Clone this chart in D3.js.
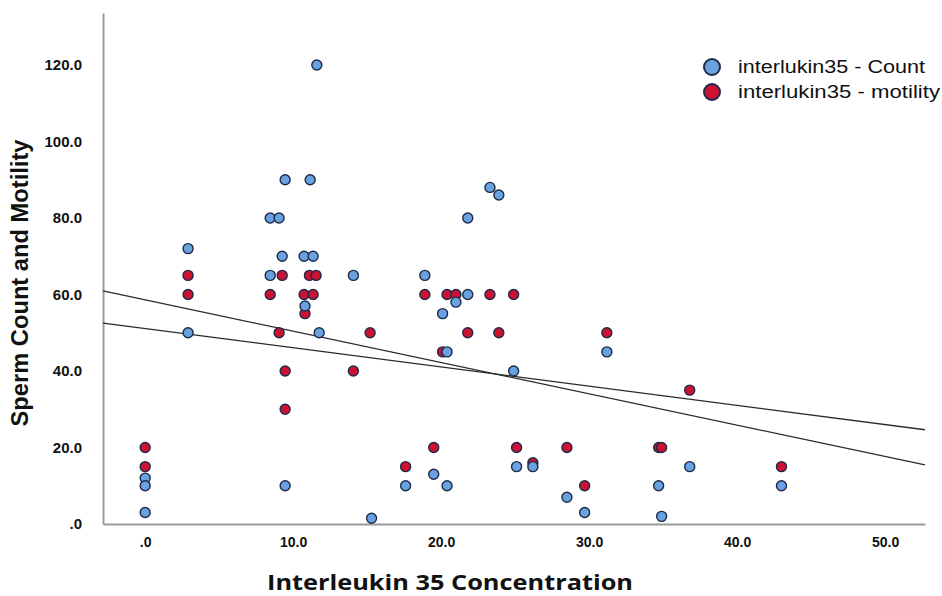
<!DOCTYPE html>
<html>
<head>
<meta charset="utf-8">
<script src="https://cdn.jsdelivr.net/npm/d3@7"></script>
<style>
  body { margin: 0; background: #fff; }
  svg { display: block; }
</style>
</head>
<body>
<svg id="chart" width="942" height="596"></svg>
<script>

// Values
var countConc = [11.6, 9.46, 11.15, 8.45, 9.05, 2.9, 9.26, 10.74, 11.35, 8.45, 2.9, 11.76, 10.8, 0, 0, 9.46, 0,
  23.3, 23.9, 21.8, 14.07, 18.9, 21.8, 21.0, 20.1, 20.4, 24.9, 26.2, 25.1, 19.5, 17.6, 20.4, 28.5, 15.3,
  31.2, 36.8, 34.7, 43.0, 29.7, 34.9];
var countVal = [120, 90, 90, 80, 80, 72, 70, 70, 70, 65, 50, 50, 57, 12, 10, 10, 3,
  88, 86, 80, 65, 65, 60, 58, 55, 45, 40, 15, 15, 13, 10, 10, 7, 1.5,
  45, 15, 10, 10, 3, 2];

var motConc = [2.9, 9.26, 11.1, 11.55, 2.9, 8.45, 10.74, 11.35, 10.8, 9.05, 9.46, 9.46, 0, 0,
  18.9, 20.4, 21.0, 23.3, 24.9, 15.2, 21.8, 23.9, 20.1, 14.07, 19.5, 25.1, 28.5, 17.6, 26.2,
  31.2, 36.8, 34.7, 34.9, 43.0, 29.7];
var motVal = [65, 65, 65, 65, 60, 60, 60, 60, 55, 50, 40, 30, 20, 15,
  60, 60, 60, 60, 60, 50, 50, 50, 45, 40, 20, 20, 20, 15, 16,
  50, 35, 20, 20, 15, 10];

// fit lines (intercept, slope) as drawn
var fitIntercepts = [58.6, 51.1];
var fitSlopes = [-0.819, -0.502];

var xTicks = [0, 10, 20, 30, 40, 50];
var yTicks = [0, 20, 40, 60, 80, 100, 120];
var seriesNames = ["interlukin35 - Count", "interlukin35 - motility"];
var seriesColors = ["#6aa2e0", "#cc1133"];


var svg = d3.select("#chart");

var x = d3.scaleLinear().domain([-2.85, 52.7]).range([103, 925]);
var y = d3.scaleLinear().domain([0, 133.6]).range([524, 13]);

var tickFmt = function (d) { return d === 0 ? ".0" : d3.format(".1f")(d); };

// Axes
svg.append("g")
  .attr("class", "y-axis")
  .attr("transform", "translate(103,0)")
  .call(d3.axisLeft(y).tickValues(yTicks).tickSize(0).tickPadding(21).tickFormat(tickFmt));

svg.append("g")
  .attr("class", "x-axis")
  .attr("transform", "translate(0,524)")
  .call(d3.axisBottom(x).tickValues(xTicks).tickSize(0).tickPadding(13).tickFormat(tickFmt));

svg.selectAll(".domain").attr("stroke", "#9a9a9a").attr("stroke-width", 2);
svg.selectAll(".tick text")
  .attr("font-family", "Liberation Sans, Arial, sans-serif")
  .attr("font-weight", "bold")
  .attr("fill", "#111");
svg.selectAll(".y-axis .tick text").attr("font-size", 15);
svg.selectAll(".x-axis .tick text").attr("font-size", 14);

// Fit lines
fitIntercepts.forEach(function (b, i) {
  var m = fitSlopes[i];
  svg.append("line")
    .attr("x1", x(-2.85)).attr("y1", y(b + m * -2.85))
    .attr("x2", x(52.7)).attr("y2", y(b + m * 52.7))
    .attr("stroke", "#2a2a2a")
    .attr("stroke-width", 1.3);
});

// Points: motility first, then count on top
function drawPoints(xs, vs, color) {
  svg.append("g").selectAll("circle")
    .data(xs.map(function (d, i) { return [d, vs[i]]; }))
    .enter()
    .append("circle")
    .attr("cx", function (d) { return x(d[0]); })
    .attr("cy", function (d) { return y(d[1]); })
    .attr("r", 5)
    .attr("fill", color)
    .attr("stroke", "#1c2b4a")
    .attr("stroke-width", 1.4);
}
drawPoints(motConc, motVal, seriesColors[1]);
drawPoints(countConc, countVal, seriesColors[0]);

// Legend (text in the picture is stretched wide)
var legendWidths = [187, 202];
var legend = svg.append("g");
seriesNames.forEach(function (name, i) {
  legend.append("circle")
    .attr("cx", 712).attr("cy", 67 + i * 25)
    .attr("r", 8)
    .attr("fill", seriesColors[i])
    .attr("stroke", "#1c2b4a")
    .attr("stroke-width", 2);
  legend.append("text")
    .attr("x", 738).attr("y", 67 + i * 25)
    .attr("dy", "0.35em")
    .attr("font-family", "Liberation Sans, Arial, sans-serif")
    .attr("font-size", 18)
    .attr("textLength", legendWidths[i])
    .attr("lengthAdjust", "spacingAndGlyphs")
    .attr("fill", "#111")
    .text(name);
});

// Axis titles
svg.append("text")
  .attr("transform", "translate(28,283) rotate(-90)")
  .attr("text-anchor", "middle")
  .attr("font-family", "Liberation Sans, Arial, sans-serif")
  .attr("font-weight", "bold")
  .attr("font-size", 23)
  .attr("textLength", 287)
  .attr("lengthAdjust", "spacingAndGlyphs")
  .attr("fill", "#111")
  .text("Sperm Count and Motility");

svg.append("text")
  .attr("x", 450).attr("y", 590)
  .attr("text-anchor", "middle")
  .attr("font-family", "Open Sans, sans-serif")
  .attr("font-weight", "bold")
  .attr("font-size", 21)
  .attr("textLength", 366)
  .attr("lengthAdjust", "spacingAndGlyphs")
  .attr("fill", "#111")
  .text("Interleukin 35 Concentration");

</script>
</body>
</html>
